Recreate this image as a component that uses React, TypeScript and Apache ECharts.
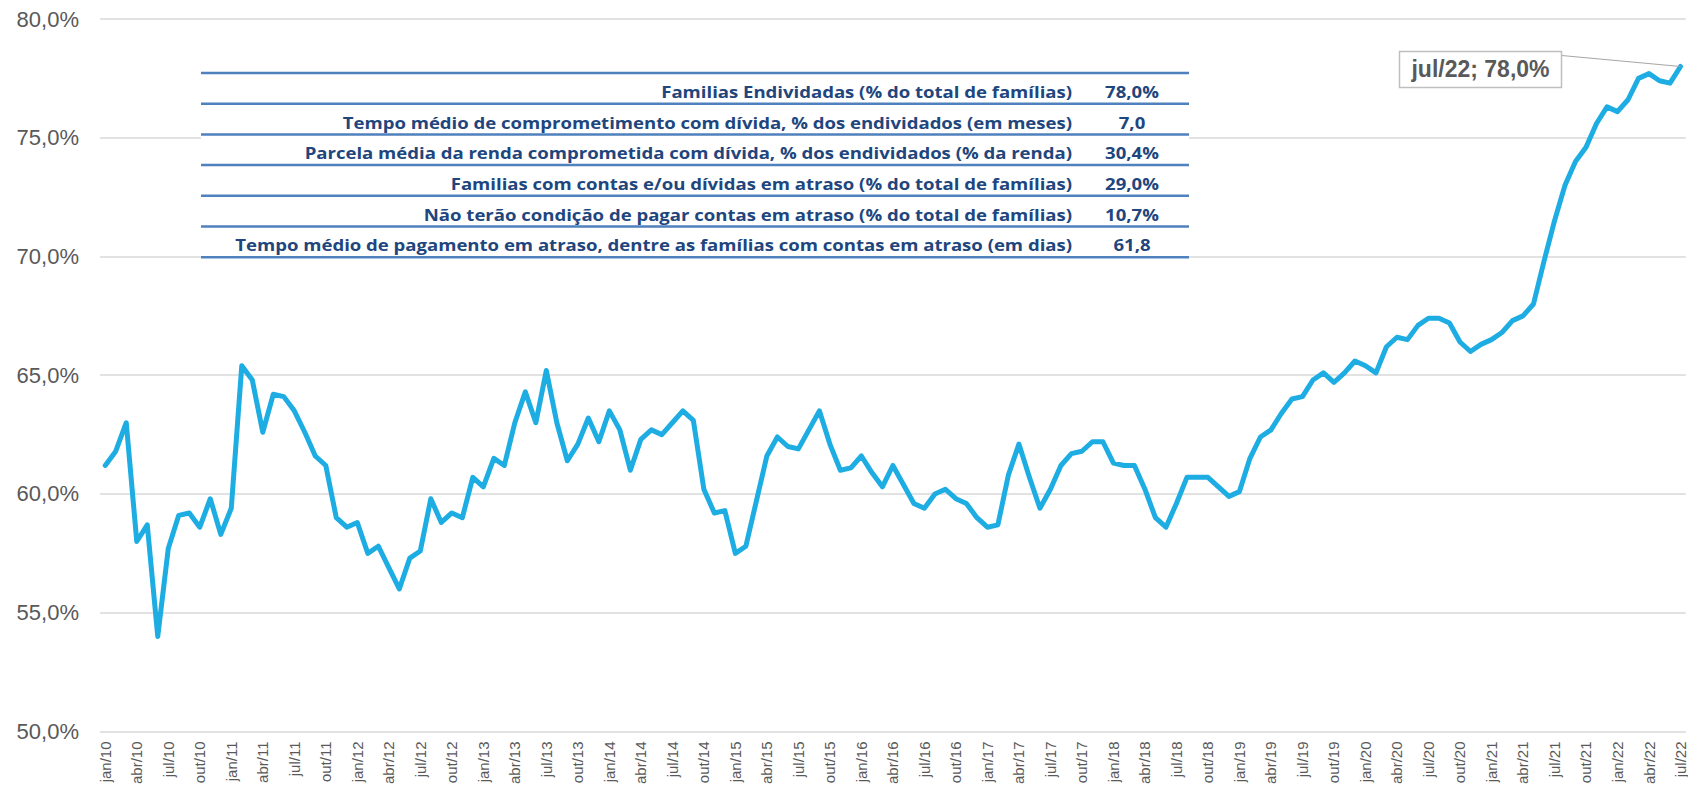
import React, { useEffect, useRef } from 'react';
import * as echarts from 'echarts';

const monthNames = ['jan', 'fev', 'mar', 'abr', 'mai', 'jun', 'jul', 'ago', 'set', 'out', 'nov', 'dez'];
const firstYear = 10;
const lastYear = 22;
const lastMonthOfLastYear = 6; // jul

const y2010 = [61.2, 61.8, 63.0, 58.0, 58.7, 54.0, 57.7, 59.1, 59.2, 58.6, 59.8, 58.3];
const y2011 = [59.4, 65.4, 64.8, 62.6, 64.2, 64.1, 63.5, 62.6, 61.6, 61.2, 59.0, 58.6];
const y2012 = [58.8, 57.5, 57.8, 56.9, 56.0, 57.3, 57.6, 59.8, 58.8, 59.2, 59.0, 60.7];
const y2013 = [60.3, 61.5, 61.2, 63.0, 64.3, 63.0, 65.2, 63.0, 61.4, 62.1, 63.2, 62.2];
const y2014 = [63.5, 62.7, 61.0, 62.3, 62.7, 62.5, 63.0, 63.5, 63.1, 60.2, 59.2, 59.3];
const y2015 = [57.5, 57.8, 59.7, 61.6, 62.4, 62.0, 61.9, 62.7, 63.5, 62.1, 61.0, 61.1];
const y2016 = [61.6, 60.9, 60.3, 61.2, 60.4, 59.6, 59.4, 60.0, 60.2, 59.8, 59.6, 59.0];
const y2017 = [58.6, 58.7, 60.8, 62.1, 60.7, 59.4, 60.2, 61.2, 61.7, 61.8, 62.2, 62.2];
const y2018 = [61.3, 61.2, 61.2, 60.2, 59.0, 58.6, 59.6, 60.7, 60.7, 60.7, 60.3, 59.9];
const y2019 = [60.1, 61.5, 62.4, 62.7, 63.4, 64.0, 64.1, 64.8, 65.1, 64.7, 65.1, 65.6];
const y2020 = [65.4, 65.1, 66.2, 66.6, 66.5, 67.1, 67.4, 67.4, 67.2, 66.4, 66.0, 66.3];
const y2021 = [66.5, 66.8, 67.3, 67.5, 68.0, 69.8, 71.5, 73.0, 74.0, 74.6, 75.6, 76.3];
const y2022 = [76.1, 76.6, 77.5, 77.7, 77.4, 77.3, 78.0];

const values: number[] = [
  ...y2010, ...y2011, ...y2012, ...y2013, ...y2014, ...y2015, ...y2016,
  ...y2017, ...y2018, ...y2019, ...y2020, ...y2021, ...y2022,
];

const categories: string[] = [];
for (let y = firstYear; y <= lastYear; y++) {
  for (let m = 0; m < 12; m++) {
    if (y === lastYear && m > lastMonthOfLastYear) break;
    categories.push(`${monthNames[m]}/${y}`);
  }
}

const yMin = 50;
const yMax = 80;
const yStep = 5;

const tableLabels = [
  'Familias Endividadas (% do total de famílias)',
  'Tempo médio de comprometimento com dívida, % dos endividados (em meses)',
  'Parcela média da renda comprometida com dívida, % dos endividados (% da renda)',
  'Familias com contas e/ou dívidas em atraso (% do total de famílias)',
  'Não terão condição de pagar contas em atraso (% do total de famílias)',
  'Tempo médio de pagamento em atraso, dentre as famílias com contas em atraso (em dias)',
];
const tableValues = ['78,0%', '7,0', '30,4%', '29,0%', '10,7%', '61,8'];

const fmtPct = (v: number) => v.toFixed(1).replace('.', ',') + '%';

export default function App() {
  const ref = useRef<HTMLDivElement>(null);

  useEffect(() => {
    const chart = echarts.init(ref.current!, null, { renderer: 'svg' });
    chart.setOption({
      animation: false,
      backgroundColor: '#ffffff',
      grid: { left: 100, right: 0, top: 19, bottom: 55, containLabel: false },
      xAxis: {
        type: 'category',
        data: categories,
        boundaryGap: true,
        axisLine: { show: false },
        axisTick: { show: false },
        axisLabel: {
          interval: 2,
          rotate: 90,
          fontSize: 15,
          color: '#595959',
          margin: 10,
          fontFamily: '"Liberation Sans", Arial, sans-serif',
        },
      },
      yAxis: {
        type: 'value',
        min: yMin,
        max: yMax,
        interval: yStep,
        axisLine: { show: false },
        axisTick: { show: false },
        splitLine: { lineStyle: { color: '#d9d9d9', width: 1.5 } },
        axisLabel: {
          formatter: (v: number) => fmtPct(v),
          fontSize: 22,
          color: '#595959',
          margin: 21,
          fontFamily: '"Liberation Sans", Arial, sans-serif',
        },
      },
      series: [
        {
          type: 'line',
          data: values,
          symbol: 'none',
          lineStyle: { color: '#1dade3', width: 5, join: 'round', cap: 'round' },
          itemStyle: { color: '#1dade3' },
        },
      ],
    });

    const last = values.length - 1;
    const [px, py] = chart.convertToPixel({ seriesIndex: 0 }, [last, values[last]]) as number[];

    const tableLeft = 201;
    const tableRight = 1189;
    const tableTop = 73;
    const rowH = 30.7;
    const textFont = '"Open Sans", "Noto Sans", sans-serif';
    const textColor = '#21457d';

    const graphics: any[] = [
      {
        type: 'rect',
        shape: { x: tableLeft, y: tableTop, width: tableRight - tableLeft, height: rowH * tableLabels.length },
        style: { fill: '#ffffff' },
        z: 10,
      },
    ];
    for (let k = 0; k <= tableLabels.length; k++) {
      const y = tableTop + k * rowH;
      graphics.push({
        type: 'line',
        shape: { x1: tableLeft, y1: y, x2: tableRight, y2: y },
        style: { stroke: '#4f81bd', lineWidth: 2.5 },
        z: 11,
      });
    }
    tableLabels.forEach((t, k) => {
      const cy = tableTop + (k + 0.5) * rowH + 3;
      graphics.push({
        type: 'text',
        x: 1072,
        y: cy,
        scaleX: 1.16,
        style: {
          text: t,
          fill: textColor,
          fontSize: 16,
          fontWeight: 'bold',
          fontFamily: textFont,
          align: 'right',
          verticalAlign: 'middle',
        },
        z: 12,
      });
      graphics.push({
        type: 'text',
        x: 1132,
        y: cy,
        scaleX: 1.16,
        style: {
          text: tableValues[k],
          fill: textColor,
          fontSize: 16,
          fontWeight: 'bold',
          fontFamily: textFont,
          align: 'center',
          verticalAlign: 'middle',
        },
        z: 12,
      });
    });

    // data label for the last point
    graphics.push({
      type: 'line',
      shape: { x1: px - 119, y1: py - 11, x2: px, y2: py },
      style: { stroke: '#a6a6a6', lineWidth: 1 },
      z: 12,
    });
    graphics.push({
      type: 'rect',
      shape: { x: px - 281, y: py - 15, width: 162, height: 36 },
      style: { fill: '#ffffff', stroke: '#bfbfbf', lineWidth: 1.5 },
      z: 13,
    });
    graphics.push({
      type: 'text',
      x: px - 200,
      y: py + 3,
      style: {
        text: `${categories[last]}; ${fmtPct(values[last])}`,
        fill: '#595959',
        fontSize: 23,
        fontWeight: 'bold',
        fontFamily: '"Liberation Sans", Arial, sans-serif',
        align: 'center',
        verticalAlign: 'middle',
      },
      z: 14,
    });

    chart.setOption({ graphic: graphics });

    return () => chart.dispose();
  }, []);

  return (
    <div
      ref={ref}
      style={{ position: 'fixed', left: 0, top: 0, width: 1688, height: 787 }}
    />
  );
}
